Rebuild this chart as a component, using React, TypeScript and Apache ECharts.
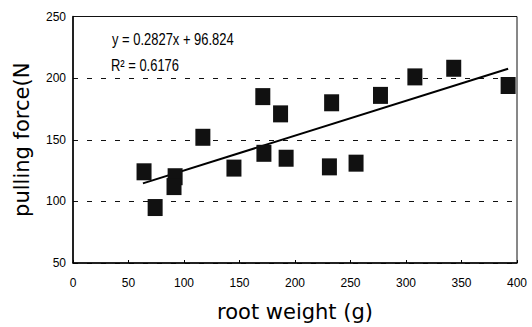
import React, { useEffect, useRef } from "react";
import * as echarts from "echarts";

const rootWeight = [64, 74, 92, 91, 117, 145, 171, 172, 187, 192, 231, 233, 255, 277, 308, 343, 392];
const pullingForce = [124, 95, 120, 112, 152, 127, 185, 139, 171, 135, 128, 180, 131, 186, 201, 208, 194];
const slope = 0.2827;
const intercept = 96.824;
const rSquared = 0.6176;
const trendRange = [63, 392];
const xTicks = { min: 0, max: 400, interval: 50 };
const yTicks = { min: 50, max: 250, interval: 50 };

export default function App() {
  const ref = useRef<HTMLDivElement>(null);
  useEffect(() => {
    if (!ref.current) return;
    const chart = echarts.init(ref.current, null, { renderer: "svg" });
    const font = "'Liberation Sans', Arial, sans-serif";
    const trend = trendRange.map((x) => [x, slope * x + intercept]);
    chart.setOption({
      animation: false,
      backgroundColor: "#fff",
      grid: {
        left: 73,
        right: 15,
        top: 16.5,
        bottom: 59,
        show: true,
        borderColor: "#111",
        borderWidth: 1,
        backgroundColor: "transparent",
      },
      xAxis: {
        type: "value",
        min: xTicks.min,
        max: xTicks.max,
        interval: xTicks.interval,
        name: "root weight (g)",
        nameLocation: "middle",
        nameGap: 38,
        nameTextStyle: { fontSize: 21, fontFamily: "'DejaVu Sans', sans-serif", color: "#000" },
        axisLine: { show: true, lineStyle: { color: "#000", width: 1.5 } },
        axisTick: { show: true, inside: true, length: 3, lineStyle: { color: "#000" } },
        axisLabel: { fontSize: 12, fontFamily: font, color: "#000", margin: 14 },
        splitLine: { show: false },
      },
      yAxis: {
        type: "value",
        min: yTicks.min,
        max: yTicks.max,
        interval: yTicks.interval,
        name: "pulling force(N",
        nameLocation: "middle",
        nameGap: 41,
        nameTextStyle: { fontSize: 21, fontFamily: "'DejaVu Sans', sans-serif", color: "#000" },
        axisLine: { show: true, lineStyle: { color: "#000", width: 1.5 } },
        axisTick: { show: false },
        axisLabel: { fontSize: 12, fontFamily: font, color: "#000", margin: 7 },
        splitLine: { show: true, lineStyle: { color: "#111", type: [5, 9], width: 1 } },
      },
      graphic: [
        {
          type: "text",
          x: 112,
          y: 32,
          scaleX: 0.81,
          style: {
            text: `y = ${slope}x + ${intercept}`,
            fontSize: 16,
            fontFamily: font,
            fill: "#000",
            verticalAlign: "top",
          },
        },
        {
          type: "text",
          x: 111,
          y: 58,
          scaleX: 0.81,
          style: {
            text: `R² = ${rSquared}`,
            fontSize: 16,
            fontFamily: font,
            fill: "#000",
            verticalAlign: "top",
          },
        },
      ],
      series: [
        {
          type: "line",
          data: trend,
          symbol: "none",
          lineStyle: { color: "#000", width: 2 },
          z: 3,
        },
        {
          type: "scatter",
          data: rootWeight.map((x, i) => [x, pullingForce[i]]),
          symbol: "rect",
          symbolSize: [15, 17],
          itemStyle: { color: "#111", opacity: 1 },
          z: 4,
        },
      ],
    });
    return () => chart.dispose();
  }, []);
  return <div ref={ref} style={{ width: 532, height: 327, position: "absolute", left: 0, top: 0 }} />;
}
